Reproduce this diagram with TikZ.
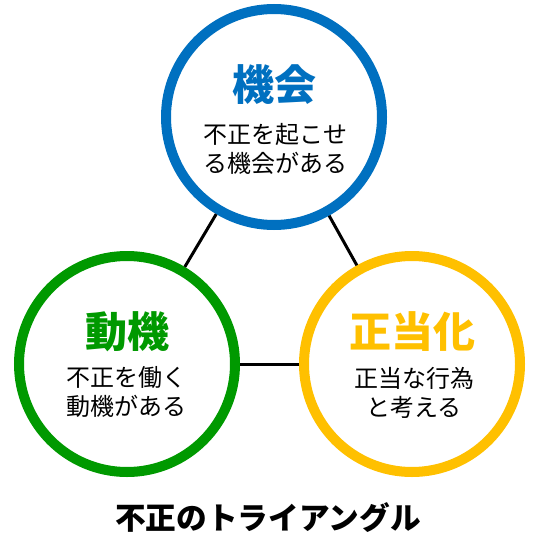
\documentclass[tikz,border=0pt]{standalone}
\usepackage{fontspec}
\setmainfont{Noto Sans CJK JP}
\definecolor{cblue}{HTML}{0070C0}
\definecolor{cgreen}{HTML}{009900}
\definecolor{cyellow}{HTML}{FFC000}
\tikzset{
  ring/.style={circle, draw=#1, line width=7.5pt, minimum size=162pt, inner sep=0pt, fill=white},
  head/.style={text=#1, font={\fontsize{31.5}{36}\selectfont\bfseries}, inner sep=0pt},
  body/.style={align=center, font={\fontsize{18}{22}\selectfont}, inner sep=0pt},
  link/.style={line width=2.25pt, black},
  caption/.style={font={\fontsize{23}{28}\selectfont\bfseries}, inner sep=0pt}
}
\begin{document}
\begin{tikzpicture}[x=0.75pt, y=-0.75pt]
\useasboundingbox (0,0) rectangle (536,542);
\node[ring=cblue] (kikai) at (274,117) {};
\node[ring=cgreen] (doki) at (127,364) {};
\node[ring=cyellow] (seito) at (412,364) {};
\draw[link] (kikai) -- (doki);
\draw[link] (kikai) -- (seito);
\draw[link] (doki) -- (seito);
\node[head=cblue] (t1) at (274,85) {機会};
\node[body] (b1) at (275,149) {不正を起こせ\\る機会がある};
\node[head=cgreen] (t2) at (127,332) {動機};
\node[body] (b2) at (126,392) {不正を働く\\動機がある};
\node[head=cyellow] (t3) at (412,332) {正当化};
\node[body] (b3) at (414,393) {正当な行為\\と考える};
\node[caption] (cap) at (268,518) {不正のトライアングル};
\end{tikzpicture}
\end{document}
